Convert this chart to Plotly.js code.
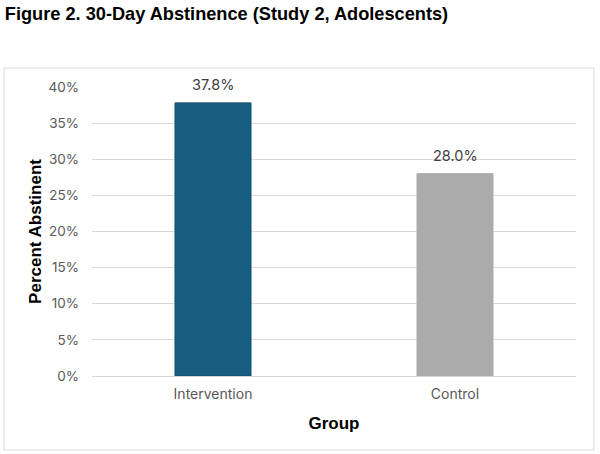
<!DOCTYPE html>
<html>
<head>
<meta charset="utf-8">
<script src="https://cdn.plot.ly/plotly-3.0.1.min.js"></script>
<style>
  html, body { margin: 0; padding: 0; background: #fff; }
  #chart { width: 600px; height: 454px; }
</style>
</head>
<body>
<div id="chart"></div>
<script>
// groups and share abstinent at 30 days
var groups = ['Intervention', 'Control'];
var abstinent = [0.378, 0.280];
var barColors = ['#175e80', '#ababab'];
var yTicks = [0, 0.05, 0.10, 0.15, 0.20, 0.25, 0.30, 0.35, 0.40];

var bars = {
  x: groups,
  y: abstinent,
  type: 'bar',
  marker: {
    color: barColors,
    line: { color: ['#0f4a66', '#ababab'], width: 1 }
  },
  hoverinfo: 'skip'
};

// value labels above the bars, lifted a bit like the original
var labels = groups.map(function (g, i) {
  return {
    x: g, y: abstinent[i],
    xref: 'x', yref: 'y',
    text: (abstinent[i] * 100).toFixed(1) + '%',
    showarrow: false,
    yanchor: 'bottom',
    yshift: 8,
    font: { family: 'Inter, Lato, sans-serif', size: 14.5, color: '#404040' }
  };
});

var layout = {
  width: 600,
  height: 454,
  margin: { l: 92, r: 24, t: 87, b: 78 },
  paper_bgcolor: '#fff',
  plot_bgcolor: '#fff',
  showlegend: false,
  bargap: 0.686,
  title: {
    text: '<b>Figure 2. 30-Day Abstinence (Study 2, Adolescents)</b>',
    font: { family: 'Liberation Sans, Arial, sans-serif', size: 18.2, color: '#000' },
    x: 0.008, xref: 'container', xanchor: 'left',
    y: 0.97, yref: 'container', yanchor: 'middle'
  },
  xaxis: {
    showline: false,
    ticks: '',
    ticklabelstandoff: 8,
    tickfont: { family: 'Inter, Lato, sans-serif', size: 14, color: '#595959' },
    title: {
      text: '<b>Group</b>',
      font: { family: 'Liberation Sans, Arial, sans-serif', size: 17, color: '#000' },
      standoff: 16
    }
  },
  yaxis: {
    range: [0, 0.40],
    tickvals: yTicks,
    tickformat: '.0%',
    showgrid: true,
    gridcolor: '#d9d9d9',
    gridwidth: 1,
    zeroline: true,
    zerolinecolor: '#d9d9d9',
    zerolinewidth: 1,
    showline: false,
    ticks: '',
    ticklabelstandoff: 12,
    tickfont: { family: 'Inter, Lato, sans-serif', size: 13.5, color: '#595959' },
    title: {
      text: '<b>Percent Abstinent</b>',
      font: { family: 'Liberation Sans, Arial, sans-serif', size: 17, color: '#000' },
      standoff: 2
    }
  },
  annotations: labels,
  shapes: [{
    type: 'rect',
    xref: 'paper', yref: 'paper',
    x0: -0.1818, x1: 1.037, y0: -0.256, y1: 1.0657,
    line: { color: '#d9d9d9', width: 1 },
    layer: 'below'
  }]
};

Plotly.newPlot('chart', [bars], layout, { displayModeBar: false, staticPlot: true });
</script>
</body>
</html>
